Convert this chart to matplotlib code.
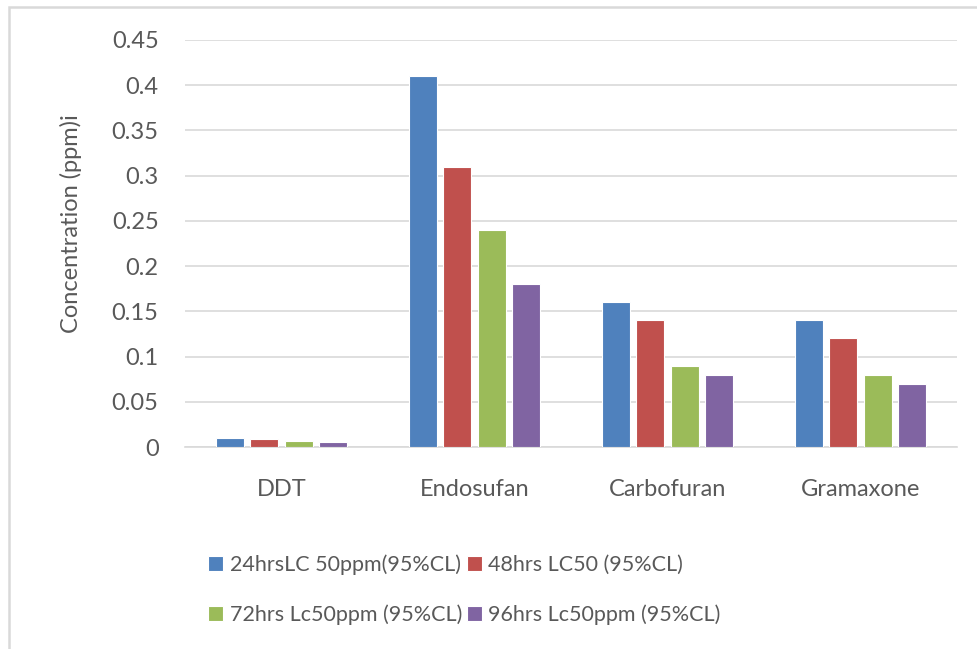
import numpy as np
import matplotlib.pyplot as plt
from matplotlib.patches import Rectangle

plt.rcParams['font.family'] = ['Lato', 'DejaVu Sans']

categories = ['DDT', 'Endosufan', 'Carbofuran', 'Gramaxone']
series_names = ['24hrsLC 50ppm(95%CL)', '48hrs LC50 (95%CL)',
                '72hrs Lc50ppm (95%CL)', '96hrs Lc50ppm (95%CL)']
lc_24 = [0.010, 0.41, 0.16, 0.14]
lc_48 = [0.0085, 0.31, 0.14, 0.12]
lc_72 = [0.0065, 0.24, 0.09, 0.08]
lc_96 = [0.005, 0.18, 0.08, 0.07]
colors = ['#4F81BD', '#C0504D', '#9BBB59', '#8064A2']
yticks = [0, 0.05, 0.1, 0.15, 0.2, 0.25, 0.3, 0.35, 0.4, 0.45]
ytick_labels = ['0', '0.05', '0.1', '0.15', '0.2', '0.25', '0.3', '0.35', '0.4', '0.45']

text_col = '#595959'
grid_col = '#D9D9D9'

fig = plt.figure(figsize=(9.77, 6.49), dpi=100)
ax = fig.add_axes([185 / 977, 1 - 447 / 649, (957 - 185) / 977, (447 - 40) / 649])

# outer chart frame
fig.patches.append(Rectangle((9 / 977, -0.05), 1.2, 1 - 7 / 649 + 0.05,
                             transform=fig.transFigure, fill=False,
                             edgecolor=grid_col, linewidth=1.8))

x = np.arange(len(categories))
width = 0.145
step = 0.179
bars = []
for i, (vals, name) in enumerate(zip([lc_24, lc_48, lc_72, lc_96], series_names)):
    b = ax.bar(x + (i - 1.5) * step, vals, width, color=colors[i], label=name,
               edgecolor='white', linewidth=0.8, zorder=3)
    bars.append(b)

ax.set_xlim(-0.5, 3.5)
ax.set_ylim(0, 0.45)
ax.set_yticks(yticks)
ax.set_yticklabels(ytick_labels)
ax.set_xticks(x)
ax.set_xticklabels(categories)
ax.tick_params(axis='both', length=0, colors=text_col, labelsize=17)
ax.tick_params(axis='y', pad=19)
ax.tick_params(axis='x', pad=23)
ax.yaxis.grid(True, color=grid_col, linewidth=1.2, zorder=0)
for s in ['top', 'right', 'left']:
    ax.spines[s].set_visible(False)
ax.spines['bottom'].set_color(grid_col)
ax.spines['bottom'].set_linewidth(1.2)

ax.set_ylabel('Concentration (ppm)i', color=text_col, fontsize=17)
ax.yaxis.set_label_coords(-0.133, 0.548)

# legend filled row by row
order = [0, 2, 1, 3]
leg = fig.legend([bars[k] for k in order], [series_names[k] for k in order],
                 loc='upper left', bbox_to_anchor=(189 / 977, 1 - 535 / 649), ncol=2,
                 frameon=False, fontsize=15.5, handlelength=0.7, handleheight=0.7,
                 handletextpad=0.3, columnspacing=0.2, labelspacing=1.35)
for t in leg.get_texts():
    t.set_color(text_col)

plt.savefig('out.png', dpi=100)
